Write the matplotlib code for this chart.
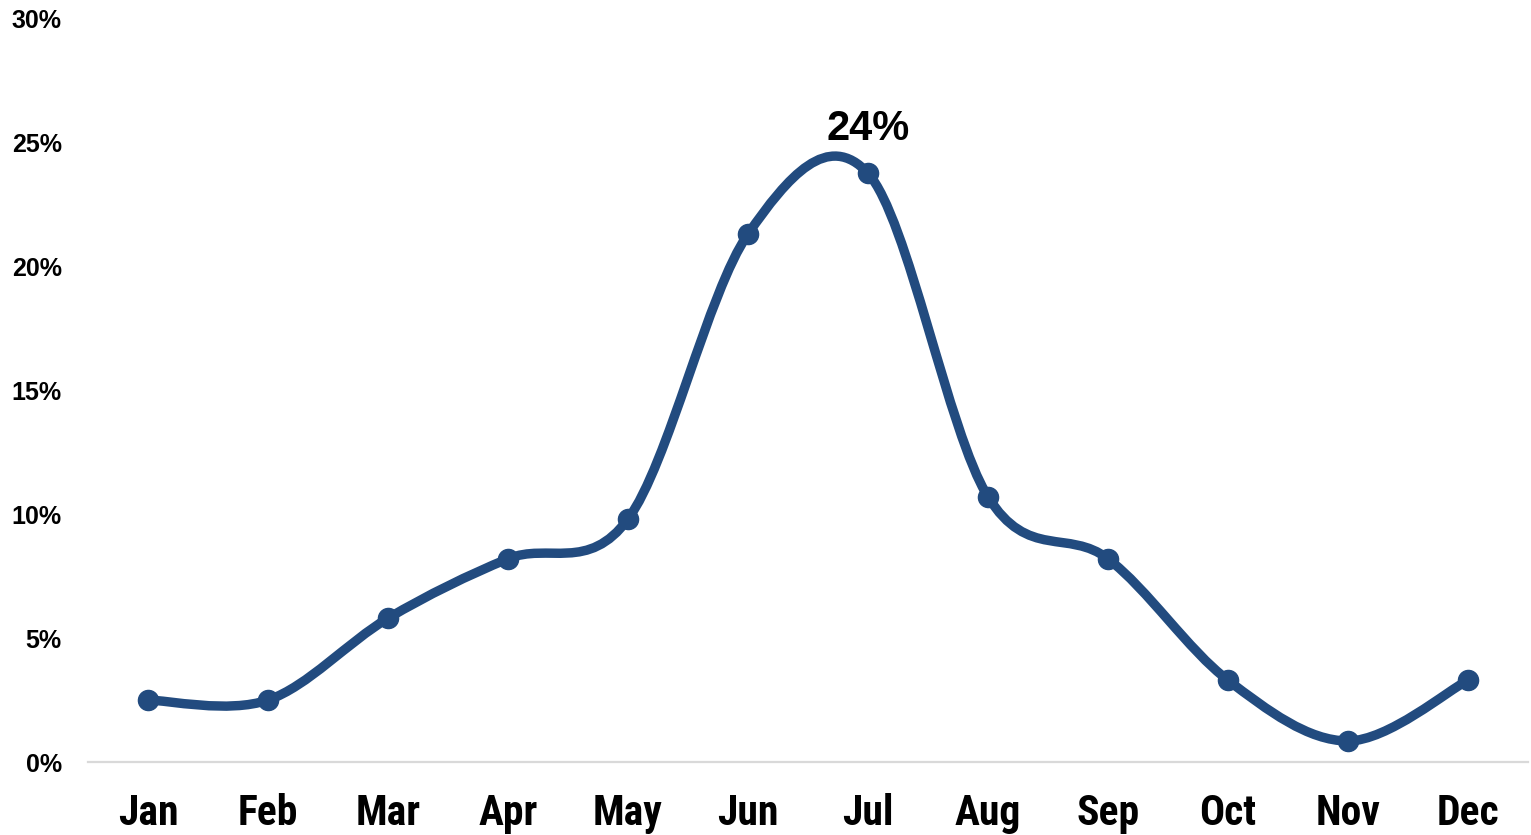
import numpy as np
import matplotlib
matplotlib.use("Agg")
import matplotlib.pyplot as plt
from matplotlib.path import Path
from matplotlib.patches import PathPatch
from matplotlib.ticker import PercentFormatter

# monthly share
months = ["Jan", "Feb", "Mar", "Apr", "May", "Jun",
          "Jul", "Aug", "Sep", "Oct", "Nov", "Dec"]
share = [0.025, 0.025, 0.058, 0.082, 0.098, 0.213,
         0.2375, 0.107, 0.082, 0.033, 0.0085, 0.033]
peak_label = "24%"

blue = "#224B7F"
cond = ["Roboto Condensed", "Archivo Narrow", "Liberation Sans Narrow", "DejaVu Sans"]
plain = ["Liberation Sans", "DejaVu Sans"]


def smooth_path(x, y):
    # Catmull-Rom style Bezier segments through each point
    x = np.asarray(x, float)
    y = np.asarray(y, float)
    pts = np.column_stack([x, y])
    n = len(pts)
    verts = [pts[0]]
    codes = [Path.MOVETO]
    for i in range(n - 1):
        p0 = pts[i - 1] if i > 0 else pts[i]
        p1 = pts[i]
        p2 = pts[i + 1]
        p3 = pts[i + 2] if i + 2 < n else pts[i + 1]
        c1 = p1 + (p2 - p0) / 6
        c2 = p2 - (p3 - p1) / 6
        verts += [c1, c2, p2]
        codes += [Path.CURVE4] * 3
    return Path(verts, codes)


fig = plt.figure(figsize=(15.31, 8.35), dpi=100)
ax = fig.add_axes([0.0575, 0.0874, 0.9405, 0.8906])

x = np.arange(len(months))
ax.add_patch(PathPatch(smooth_path(x, share), facecolor="none",
                       edgecolor=blue, lw=6.8, capstyle="round",
                       joinstyle="round", zorder=3))
ax.plot(x, share, "o", color=blue, ms=14.5, zorder=4)

jul = months.index("Jul")
ax.annotate(peak_label, (x[jul], share[jul]), xytext=(0, 24),
            textcoords="offset points", ha="center", va="baseline",
            fontsize=30, fontweight="bold", family=plain)

ax.set_xlim(-0.5, len(months) - 0.5)
ax.set_ylim(0, 0.30)
ax.set_yticks(np.arange(0, 0.301, 0.05))
ax.yaxis.set_major_formatter(PercentFormatter(1.0, decimals=0))
ax.set_xticks(x)
ax.set_xticklabels(months)

for lab in ax.get_yticklabels():
    lab.set_fontsize(18)
    lab.set_fontweight("bold")
    lab.set_family(plain)
for lab in ax.get_xticklabels():
    lab.set_fontsize(30)
    lab.set_fontweight("bold")
    lab.set_family(cond)

ax.tick_params(axis="y", length=0, pad=19)
ax.tick_params(axis="x", length=0, pad=22)

for side in ["left", "right", "top"]:
    ax.spines[side].set_visible(False)
ax.spines["bottom"].set_color("#D9D9D9")
ax.spines["bottom"].set_linewidth(1.6)

fig.savefig("out.png", dpi=100)
